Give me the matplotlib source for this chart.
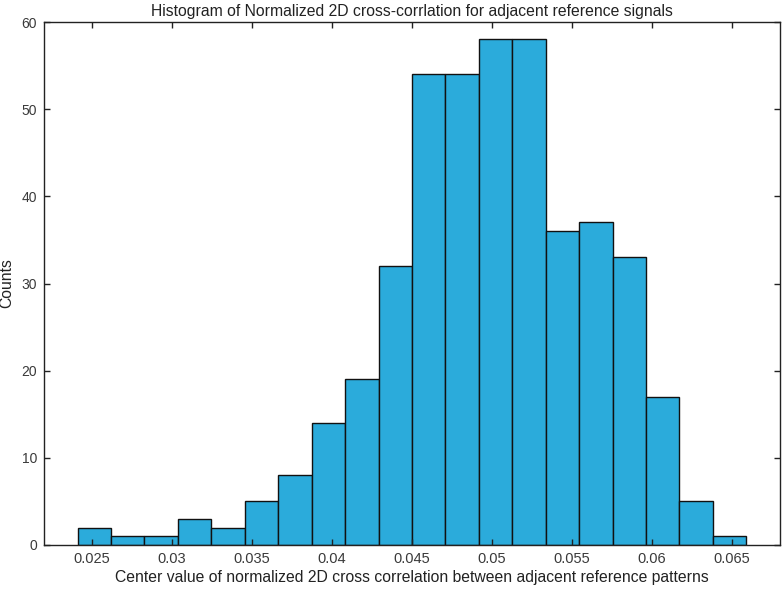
import numpy as np
import matplotlib
matplotlib.use("Agg")
import matplotlib.pyplot as plt

plt.rcParams['font.family'] = ['Liberation Sans', 'DejaVu Sans']

counts = [2, 1, 1, 3, 2, 5, 8, 14, 19, 32, 54, 54, 58, 58, 36, 37, 33, 17, 5, 1]
bin_start = 0.0241
bin_end = 0.0659
xticks = [0.025, 0.03, 0.035, 0.04, 0.045, 0.05, 0.055, 0.06, 0.065]
xtick_labels = ["0.025", "0.03", "0.035", "0.04", "0.045", "0.05", "0.055", "0.06", "0.065"]
yticks = [0, 10, 20, 30, 40, 50, 60]

edges = np.linspace(bin_start, bin_end, len(counts) + 1)

fig = plt.figure(figsize=(7.82, 5.92), dpi=100)
ax = fig.add_axes([0.0563, 0.0794, 0.9411, 0.8834])
ax.bar(edges[:-1], counts, width=np.diff(edges), align='edge',
       color='#2BABDB', edgecolor='#111111', linewidth=1.0)
ax.set_xlim(0.022, 0.068)
ax.set_ylim(0, 60)
ax.set_xticks(xticks)
ax.set_xticklabels(xtick_labels)
ax.set_yticks(yticks)
ax.tick_params(direction='in', top=True, right=True, length=4, width=1,
               colors='#222222', labelcolor='#3a3a3a')
ax.tick_params(axis='x', labelsize=10.5, pad=5)
ax.tick_params(axis='y', labelsize=10, pad=5)
for s in ax.spines.values():
    s.set_linewidth(1.0)
    s.set_color('#222222')
ax.set_title("Histogram of Normalized 2D cross-corrlation for adjacent reference signals",
             fontsize=11.3, color='#222222', pad=4)
ax.set_xlabel("Center value of normalized 2D cross correlation between adjacent reference patterns",
              fontsize=11.3, color='#222222', labelpad=3)
ax.set_ylabel("Counts", fontsize=11.3, color='#222222', labelpad=5)
fig.savefig("out.png", dpi=100)
